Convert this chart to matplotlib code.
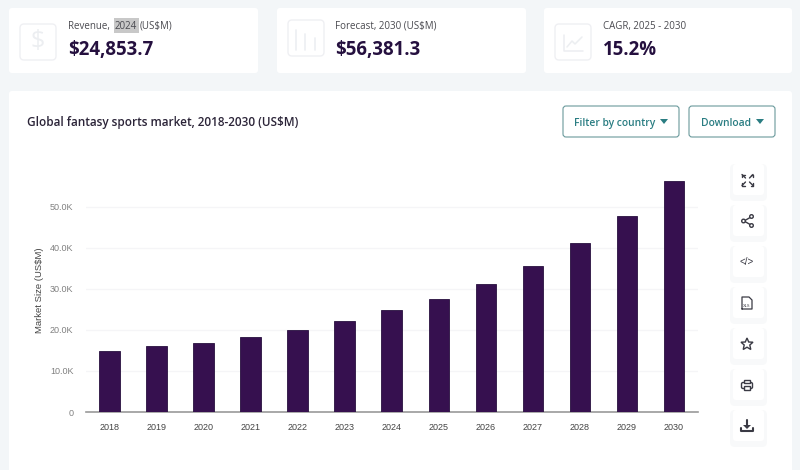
import matplotlib
matplotlib.use("Agg")
import matplotlib.pyplot as plt
from matplotlib.patches import FancyBboxPatch, Rectangle, Polygon, Circle
from matplotlib.ticker import FuncFormatter

years = ["2018", "2019", "2020", "2021", "2022", "2023", "2024",
         "2025", "2026", "2027", "2028", "2029", "2030"]
market_size = [14900, 16000, 16800, 18300, 20100, 22300, 24853.7,
               27650, 31200, 35700, 41100, 47800, 56381.3]
y_ticks = [0, 10000, 20000, 30000, 40000, 50000]

stat_labels = ["Forecast, 2030 (US$M)", "CAGR, 2025 - 2030"]
stat_values = ["$24,853.7", "$56,381.3", "15.2%"]

DARK = "#25103f"
BAR = "#36104f"
TEAL = "#2a7d82"
BTN_EDGE = "#6a9a9c"
BORDER = "#eff0f3"
ICON = "#3a3a44"
UI_FONT = "Open Sans"
CHART_FONT = "Liberation Sans"


def rounded(ax, x, y, w, h, r=3, fc="white", ec="none", lw=1.0, z=1):
    p = FancyBboxPatch((x + r, y + r), w - 2 * r, h - 2 * r,
                       boxstyle=f"round,pad={r},rounding_size={r}",
                       fc=fc, ec=ec, lw=lw, zorder=z)
    ax.add_patch(p)


def line(ax, xs, ys, c=ICON, lw=1.0, z=4):
    ax.plot(xs, ys, color=c, lw=lw, zorder=z, solid_capstyle="round",
            solid_joinstyle="round")


fig = plt.figure(figsize=(8, 4.7), dpi=100, facecolor="#f3f6f8")

# page layer in pixel coordinates, for cards and buttons
bg = fig.add_axes([0, 0, 1, 1])
bg.set_xlim(0, 800)
bg.set_ylim(470, 0)
bg.axis("off")

for x, w in [(9, 249), (277, 249), (544, 248)]:
    rounded(bg, x, 8, w, 65)
rounded(bg, 9, 91, 783, 385)

# stat card icons
for x, y in [(20, 24), (288, 20), (555, 24)]:
    rounded(bg, x, y, 36, 36, r=4, fc="white", ec=BORDER, lw=1.0, z=2)
bg.text(38, 42, "$", fontsize=18, color="#eceef1", ha="center", va="center",
        family=UI_FONT, zorder=3)
for x, y0, y1 in [(296, 30, 50), (305, 34, 50), (315, 38, 50)]:
    line(bg, [x, x], [y0, y1], c="#eef0f3", lw=1.3)
line(bg, [564, 564, 583], [35, 51, 51], c="#eceef1", lw=1.1)
line(bg, [567, 572, 575, 582], [47, 41, 44, 37], c="#eceef1", lw=1.1)

# stat card text
bg.add_patch(Rectangle((114, 18), 25, 15, fc="#c8c8c8", ec="none", zorder=2))
bg.text(68, 29, "Revenue,", fontsize=7.0, color="#4a4a50", family=UI_FONT, zorder=3)
bg.text(115, 29, "2024", fontsize=7.0, color="#4a4a50", family=UI_FONT, zorder=3)
bg.text(140, 29, "(US$M)", fontsize=7.0, color="#4a4a50", family=UI_FONT, zorder=3)
bg.text(335, 29, stat_labels[0], fontsize=7.0, color="#4a4a50", family=UI_FONT, zorder=3)
bg.text(603, 29, stat_labels[1], fontsize=7.0, color="#4a4a50", family=UI_FONT, zorder=3)
for x, val in zip([68, 335, 603], stat_values):
    bg.text(x, 55, val, fontsize=13.4, fontweight="bold", color=DARK,
            family=UI_FONT, zorder=3)

bg.text(27, 126, "Global fantasy sports market, 2018-2030 (US$M)", fontsize=8.45,
        fontweight="semibold", color="#2b2438", family=UI_FONT, zorder=3)

# buttons
rounded(bg, 563, 106, 116, 31, r=3, fc="white", ec=BTN_EDGE, lw=0.8, z=2)
rounded(bg, 689, 106, 86, 31, r=3, fc="white", ec=BTN_EDGE, lw=0.8, z=2)
bg.text(574, 126, "Filter by country", fontsize=7.4, fontweight="semibold", color=TEAL,
        family=UI_FONT, zorder=3)
bg.text(701, 126, "Download", fontsize=7.4, fontweight="semibold", color=TEAL,
        family=UI_FONT, zorder=3)
bg.add_patch(Polygon([[660, 119], [668, 119], [664, 124]], fc=TEAL, ec="none", zorder=3))
bg.add_patch(Polygon([[756, 119], [764, 119], [760, 124]], fc=TEAL, ec="none", zorder=3))

# side toolbar
toolbar_y = [180, 221, 262, 303, 344, 385, 426]
for cy in toolbar_y:
    rounded(bg, 730, cy - 16, 37, 37, r=5, fc="#f8f9fa", z=1)
    rounded(bg, 733, cy - 16, 31, 31, r=3, fc="white", z=2)

# expand
cx, cy = 747.5, 180
for sx in (-1, 1):
    for sy in (-1, 1):
        line(bg, [cx + sx * 2, cx + sx * 5.5], [cy + sy * 2, cy + sy * 5.5])
        line(bg, [cx + sx * 3, cx + sx * 5.5, cx + sx * 5.5],
             [cy + sy * 5.5, cy + sy * 5.5, cy + sy * 3])
# share
cx, cy = 747, 221
line(bg, [cx + 4, cx - 3, cx + 4], [cy - 4, cy, cy + 4])
for dx, dy in [(4.5, -4.5), (-3.5, 0), (4.5, 4.5)]:
    bg.add_patch(Circle((cx + dx, cy + dy), 1.8, fc="white", ec=ICON, lw=1, zorder=5))
# embed
bg.text(747, 262, "</>", fontsize=7, color=ICON, ha="center", va="center",
        family=CHART_FONT, zorder=4)
# xls file
cx, cy = 747, 303
line(bg, [cx - 5, cx - 5, cx + 2, cx + 5, cx + 5, cx - 5],
     [cy + 6, cy - 6, cy - 6, cy - 3, cy + 6, cy + 6], lw=0.9)
bg.text(cx - 0.5, cy + 3, "XLS", fontsize=2.8, color=ICON, ha="center", va="center",
        family=CHART_FONT, zorder=4)
# star
cx, cy = 747, 344
star = [[0, -6], [1.7, -2], [6, -1.8], [2.8, 1], [3.8, 5.5], [0, 3.2],
        [-3.8, 5.5], [-2.8, 1], [-6, -1.8], [-1.7, -2]]
bg.add_patch(Polygon([[cx + a, cy + b] for a, b in star], fc="white", ec=ICON, lw=1, zorder=4))
# print
cx, cy = 747, 385
rounded(bg, cx - 5.5, cy - 2.5, 11, 6, r=1.5, fc="white", ec=ICON, lw=1, z=4)
bg.add_patch(Rectangle((cx - 3, cy - 5.5), 6, 3, fc="white", ec=ICON, lw=1, zorder=5))
bg.add_patch(Rectangle((cx - 3, cy + 1), 6, 4, fc="white", ec=ICON, lw=1, zorder=5))
# download
cx, cy = 747, 426
line(bg, [cx, cx], [cy - 6, cy + 1], lw=1.5)
bg.add_patch(Polygon([[cx - 4, cy - 1], [cx + 4, cy - 1], [cx, cy + 3]], fc=ICON, ec="none", zorder=4))
line(bg, [cx - 6, cx - 6, cx + 6, cx + 6], [cy + 2, cy + 5, cy + 5, cy + 2], lw=1.5)

# chart, baseline at y=412 and 41px per 10K
ax = fig.add_axes([86 / 800, 58 / 470, 611.5 / 800, 242 / 470])
ax.patch.set_alpha(0)
ax.bar(years, market_size, width=20.5 / 47, color=BAR, edgecolor="#28103f", linewidth=0.6, zorder=3)
ax.set_xlim(-0.5, len(years) - 0.5)
ax.set_ylim(0, 59024)
ax.set_yticks(y_ticks)
ax.yaxis.set_major_formatter(FuncFormatter(lambda v, _: "0" if v == 0 else f"{v / 1000:.1f}K"))
ax.grid(axis="y", color="#f5f5f7", lw=1, zorder=0)
ax.set_axisbelow(True)
for name in ["top", "right", "left"]:
    ax.spines[name].set_visible(False)
ax.spines["bottom"].set_color("#9a9a9a")
ax.spines["bottom"].set_linewidth(1.2)
ax.tick_params(axis="both", length=0)
ax.tick_params(axis="x", pad=8, labelsize=6.5, labelcolor="#444444")
ax.tick_params(axis="y", pad=9, labelsize=6.5, labelcolor="#808080")
for lab in ax.get_xticklabels() + ax.get_yticklabels():
    lab.set_family(CHART_FONT)
ax.set_ylabel("Market Size (US$M)", fontsize=6.8, color="#444444", family=CHART_FONT)
ax.yaxis.set_label_coords(-42 / 611.5, 0.502)

fig.savefig("out.png", dpi=100, facecolor=fig.get_facecolor())
